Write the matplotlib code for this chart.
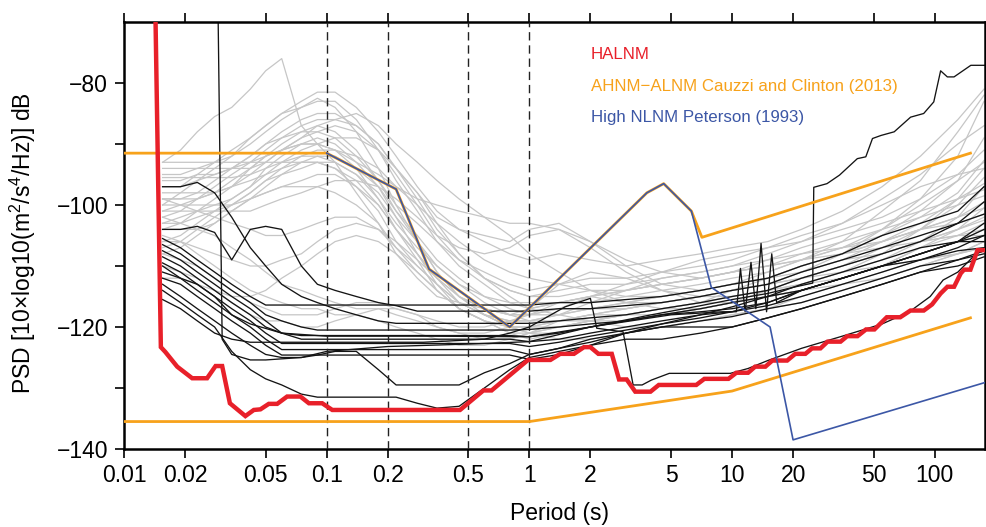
import matplotlib
matplotlib.use("Agg")
import matplotlib.pyplot as plt
from matplotlib.ticker import FixedLocator, NullLocator

plt.rcParams['font.family'] = ['Liberation Sans', 'DejaVu Sans']
plt.rcParams['mathtext.fontset'] = 'custom'
plt.rcParams['mathtext.rm'] = 'Liberation Sans'
plt.rcParams['mathtext.it'] = 'Liberation Sans:italic'

# period bins (s) shared by the station PSD curves
periods = [0.0155, 0.019, 0.023, 0.028, 0.034, 0.042, 0.05, 0.06, 0.075, 0.09,
           0.11, 0.14, 0.18, 0.22, 0.28, 0.35, 0.45, 0.6, 0.8, 1.0,
           1.4, 2, 3, 4.5, 7, 10, 15, 22, 35, 55,
           85, 130, 175]

# grey station curves (dB)
grey_01 = [-93, -91, -88, -85.5, -84, -81, -78, -76, -87, -90, -93, -98, -103, -108, -112, -115, -116, -117, -118, -117, -116, -116, -115, -114, -113, -112, -111, -109, -107, -104, -100, -96, -93]
grey_02 = [-100, -98, -96, -94, -92, -89, -87, -85, -83, -81.5, -81.5, -84, -88, -92, -97, -101, -104, -106, -108, -109, -108, -109, -110, -109, -108, -107, -106, -104, -101, -97, -92, -86, -81]
grey_03 = [-97, -97, -95, -93, -91, -89, -87, -85, -84, -83, -83, -86, -91, -96, -101, -106, -110, -113, -116, -117, -116, -115, -116, -115, -114, -113, -111, -109, -106, -101, -96, -88, -82]
grey_04 = [-95, -95, -94, -93, -92, -90, -88, -86, -84, -82.5, -84, -88, -94, -100, -106, -111, -115, -118, -120, -120, -119, -119, -118, -117, -116, -114, -113, -111, -108, -104, -99, -92, -83]
grey_05 = [-102, -101, -99, -97, -95, -93, -91, -89, -87, -86, -86, -87, -90, -94, -99, -104, -108, -112, -114, -115, -114, -113, -113, -112, -111, -110, -108, -106, -103, -99, -95, -90, -87]
grey_06 = [-104, -103, -101, -99, -97, -94, -92, -90, -88, -87, -88, -91, -96, -101, -106, -110, -113, -116, -118, -119, -119, -118, -118, -117, -116, -115, -114, -112, -110, -107, -104, -100, -95.5]
grey_07 = [-99, -99, -98, -96, -94, -92, -90, -89, -88, -88, -89, -92, -96, -100, -103, -106, -109, -111, -113, -114, -113, -112, -112, -111, -110, -109, -107, -105, -103, -100, -97, -95, -94]
grey_08 = [-106, -105, -103, -101, -99, -97, -94, -92, -90, -89, -90, -93, -97, -102, -108, -113, -117, -119, -121, -121, -120, -119, -118, -117, -117, -116, -115, -113, -111, -109, -106, -102, -97]
grey_09 = [-101, -100, -99, -98, -96, -94, -92, -91, -90, -90, -91, -93, -95, -97, -99, -100, -101, -102, -103, -103, -104, -106, -109, -111, -112, -111, -110, -108, -106, -104, -102, -100, -98.5]
grey_10 = [-108, -107, -105, -103, -101, -99, -97, -95, -93, -92, -92, -94, -97, -101, -105, -109, -112, -115, -117, -118, -118, -117, -117, -116, -115, -114, -113, -111, -109, -106, -104, -102, -100.5]
grey_11 = [-96, -96, -95, -95, -94, -93, -92, -91, -90, -90, -91, -94, -99, -104, -109, -114, -117, -119, -120, -120, -119, -118, -117, -116, -115, -114, -112, -110, -108, -106, -104, -103, -101.5]
grey_12 = [-103, -103, -102, -101, -100, -98, -96, -95, -94, -93, -93, -95, -98, -102, -106, -111, -115, -118, -120, -121, -121, -120, -119, -118, -117, -116, -115, -114, -112, -110, -107, -105, -103]
grey_13 = [-93, -93, -93, -93, -93, -93, -93, -93, -93, -93, -94, -96, -100, -104, -108, -112, -116, -118, -119, -119, -118, -117, -116, -115, -114, -113, -112, -111, -109, -108, -106, -105, -104]
grey_14 = [-95.5, -95.5, -95.5, -95.5, -95.5, -95, -94, -93, -92, -92, -93, -95, -99, -103, -107, -110, -113, -115, -116, -116, -116, -115, -114, -113, -112, -111, -110, -109, -108, -107, -106, -105, -105]
grey_15 = [-98, -98, -98, -98, -97, -96, -95, -94, -93, -93, -94, -97, -101, -106, -110, -113, -116, -118, -120, -121, -122, -122, -121, -120, -119, -118, -117, -115, -113, -111, -109, -108, -107]
grey_16 = [-100, -100, -100, -100, -100, -99, -98, -97, -96, -95, -95, -97, -100, -104, -108, -112, -115, -117, -118, -118, -117, -117, -116, -116, -115, -114, -113, -112, -110, -108, -106, -104, -102.5]
grey_17 = [-104, -104, -104, -103, -101, -99, -98, -97, -97, -97, -98, -100, -103, -107, -111, -114, -117, -119, -121, -122, -121, -120, -119, -118, -117, -116, -114, -112, -110, -108, -106, -104, -102]
grey_18 = [-99, -100, -101, -102, -103, -104, -105, -105, -104, -103, -102, -102, -104, -107, -110, -113, -116, -118, -119, -119, -118, -116, -114, -112, -111, -110, -109, -108, -107, -106, -104, -102, -99.5]
grey_19 = [-106, -106, -107, -108, -109, -110, -110, -109, -108, -106, -104, -103, -104, -106, -109, -112, -115, -117, -118, -118, -117, -115, -113, -111, -109, -108, -107, -106, -104, -102, -99, -95, -91]
grey_20 = [-108, -109, -110, -112, -114, -116, -117, -118, -118, -118, -117, -116, -116, -117, -118, -119, -120, -120, -119, -118, -116, -115, -114, -113, -112, -111, -110, -109, -107, -105, -102, -98, -92.7]
grey_21 = [-110, -111, -112, -114, -116, -118, -119, -119, -120, -120, -119, -118, -117, -117, -118, -120, -121, -121, -120, -117, -113, -111, -112, -114, -115, -115, -114, -113, -112, -110, -108, -106, -105]
grey_22 = [-102, -103, -104, -105, -107, -109, -111, -113, -114, -115, -116, -117, -117, -118, -119, -120, -121, -122, -122, -121, -119, -118, -117, -116, -115, -114, -113, -112, -111, -110, -109, -108, -107]
grey_23 = [-105, -106, -108, -110, -112, -114, -115, -116, -117, -117, -118, -118, -119, -120, -121, -122, -123, -123, -122, -121, -120, -119, -119, -118, -117, -116, -115, -114, -113, -112, -110, -108, -106]
grey_24 = [-97, -97, -96, -95, -94, -92, -90, -88, -86, -85, -85, -87, -90, -94, -98, -102, -104, -105, -106, -104, -103, -106, -110, -113, -114, -113, -112, -110, -108, -105, -101, -96, -89]
grey_25 = [-107, -106, -104, -102, -100, -98, -96, -94, -92, -91, -91, -92, -94, -97, -100, -103, -106, -109, -111, -112, -113, -114, -115, -115, -114, -113, -112, -110, -108, -106, -103, -99, -96.5]
grey_26 = [-94, -94, -94, -94, -94, -94, -93, -91, -89, -88, -87, -88, -91, -95, -100, -105, -109, -112, -114, -115, -115, -114, -114, -113, -112, -111, -109, -107, -105, -103, -101, -99, -97.5]
grey_27 = [-101, -101, -101, -101, -101, -101, -100, -99, -98, -97, -96, -96, -97, -99, -102, -105, -107, -108, -107, -105, -104, -107, -111, -114, -116, -116, -115, -114, -112, -110, -107, -104, -100.5]
grey_28 = [-103, -102, -101, -100, -99, -97, -95, -93, -91, -90, -89, -89, -91, -94, -98, -103, -108, -112, -115, -117, -118, -119, -120, -120, -119, -118, -117, -116, -114, -112, -110, -108, -106]
grey_29 = [-112, -112, -113, -114, -115, -115, -114, -112, -110, -108, -106, -105, -106, -108, -111, -114, -117, -119, -120, -120, -120, -119, -118, -118, -117, -116, -115, -114, -112, -110, -108, -106, -104]
grey_30 = [-99, -99, -99, -98, -97, -95, -93, -91, -89, -87, -86, -85, -87, -90, -93, -96, -99, -102, -105, -108, -111, -114, -116, -117, -116, -115, -114, -113, -111, -108, -104, -99, -94]

grey_curves = [grey_01, grey_02, grey_03, grey_04, grey_05, grey_06, grey_07, grey_08, grey_09, grey_10,
               grey_11, grey_12, grey_13, grey_14, grey_15, grey_16, grey_17, grey_18, grey_19, grey_20,
               grey_21, grey_22, grey_23, grey_24, grey_25, grey_26, grey_27, grey_28, grey_29, grey_30]

# black station curves (dB)
black_01 = [-97, -97, -96.3, -98, -102, -107, -110, -113, -115, -116, -117, -118, -119, -119.4, -119.4, -119.4, -119.4, -119.4, -119.4, -119.4, -119, -118.5, -118, -117, -116, -115, -114, -112, -110, -108, -106, -103, -99.5]
black_02 = [-104, -104, -103.5, -104.5, -109, -104, -103.5, -104, -110, -113, -114, -115, -116, -116.5, -117.4, -117.4, -117.4, -117.4, -117.4, -117.4, -117, -117, -116.5, -116, -115, -114, -113, -111, -109, -107, -105, -103, -101.5]
black_03 = [-105.5, -107, -109, -111, -113, -115, -116.4, -116.4, -116.4, -116.4, -116.4, -116.4, -116.4, -116.4, -116.4, -116.4, -116.4, -116.4, -116.4, -116.4, -116, -116, -115.5, -115, -114, -113, -112, -110, -108, -105, -103, -101, -97]
black_04 = [-106.5, -108, -110, -112, -114, -116, -118, -119, -120, -120.5, -120.5, -120.5, -120.5, -120.5, -120.5, -120.5, -120.5, -120.5, -120.5, -120.4, -120, -119.5, -119, -118, -117, -116, -115, -114, -112, -110, -108, -106, -104]
black_05 = [-107.5, -109, -111, -113, -115, -117, -119, -121, -121.4, -121.4, -121.4, -121.4, -121.4, -121.4, -121.4, -121.4, -121.4, -121.4, -121.4, -121.6, -121, -120, -119, -118, -117.5, -117, -116, -114, -112, -110, -109, -107, -105]
black_06 = [-108.5, -110, -112, -114, -116, -118, -120, -121, -122, -122, -122, -122, -122, -122, -122, -122, -122, -122, -122, -122.4, -122, -121, -120, -119, -118, -116.7, -115, -113, -111, -109, -107, -106, -106]
black_07 = [-109.5, -111, -113, -115, -117, -119, -121, -122.7, -122.7, -122.7, -122.7, -122.7, -122.7, -122.7, -122.7, -122.7, -122.7, -122.7, -122.7, -123.2, -122.5, -121.5, -120.5, -119.5, -118.5, -117.5, -116.5, -115, -113, -111, -109, -107.5, -107]
black_08 = [-111, -112, -113, -115, -118, -120, -122, -123.7, -123.7, -123.7, -123.7, -123.7, -123.7, -123.7, -123.7, -123.7, -123.7, -123.7, -123.7, -124.5, -123.5, -122, -121, -120, -119, -118.3, -117, -116, -114, -112, -110, -109, -108]
black_09 = [-112, -113, -115, -117, -119, -121, -123, -124.6, -124.6, -124.6, -124.6, -124.6, -124.6, -124.6, -124.6, -124.6, -124.6, -124.6, -124.6, -125.3, -124.5, -123, -121, -120, -120, -120, -118.5, -117, -115, -113, -111, -110, -108.5]
black_10 = [-113, -115, -117, -119, -121, -123, -124.5, -125, -125, -124.6, -124, -124, -127, -129.5, -129.5, -129.5, -129.5, -127.5, -126, -124.5, -123.5, -122.5, -121, -119.5, -118, -117.5, -116, -114, -112, -110, -108, -106, -105]
black_11 = [-114, -116, -118, -120, -124, -127, -128.5, -129.5, -131, -131.5, -131.5, -131.5, -131.5, -131.5, -132.5, -133.3, -133, -130, -127, -125, -124, -123, -122, -122, -121, -120, -118.5, -117, -115, -113, -111, -109, -107.5]

black_curves = [black_01, black_02, black_03, black_04, black_05, black_06,
                black_07, black_08, black_09, black_10, black_11]

# black curves with their own period bins
tall_periods = [0.0155, 0.0284, 0.0305, 0.034, 0.042, 0.05, 0.075, 0.1, 0.2, 0.5, 1.0, 2.0, 5.0, 9.0,
                10.5, 11.0, 11.6, 12.4, 13.1, 13.9, 14.8, 15.7, 16.6, 22, 35, 55, 85, 130, 175]
tall_psd = [-40, -40, -122, -124.5, -125.4, -125.4, -125, -124, -123.2, -122.8, -122.4, -120, -118, -117.5,
            -117.5, -110.4, -117.5, -109.4, -117, -106.3, -117.5, -108, -116, -114, -112, -110, -108, -106, -103]

drop_periods = [0.0155, 0.019, 0.023, 0.028, 0.034, 0.042, 0.06, 0.1, 0.3, 0.6, 0.8, 1.0, 1.5, 2.0, 2.15, 2.9,
                3.25, 3.6, 4.0, 4.9, 9.8, 12, 15, 22, 35, 55, 75, 95, 110, 130, 160, 175]
drop_psd = [-115.5, -117, -119, -121, -122, -122.5, -122.5, -122.5, -122.5, -122, -121, -120, -116.7, -115.3, -120.2, -120.8,
            -129.5, -129.5, -128.7, -127.6, -127.6, -126.8, -125.5, -123.5, -121.5, -119.5, -117.5, -115, -112.3, -111, -108, -107.5]

jump_periods = [0.0155, 0.019, 0.023, 0.028, 0.034, 0.042, 0.06, 0.1, 0.3, 1.0, 2.0, 4.0, 7, 10, 15, 20, 25.0,
                25.3, 29.4, 33.9, 41.5, 45.7, 49.3, 54.3, 63.1, 76.0, 88.2, 98.9, 106.9, 115.4, 124.5, 150.7, 177]
jump_psd = [-110, -112, -114, -116, -118, -119.5, -121, -121.5, -121.5, -121.6, -120, -118, -116.5, -115.5, -114.5, -113.5, -112.8,
            -97.1, -96.5, -95.1, -92.4, -92.1, -89.1, -88.6, -88.0, -85.6, -85.0, -83.1, -78.0, -79.0, -79.0, -77.1, -77.1]

# HALNM
halnm_periods = [0.01428, 0.0152, 0.016, 0.0183, 0.0217, 0.0257, 0.0283, 0.0305, 0.0333, 0.0397, 0.0437, 0.0471,
                 0.0518, 0.057, 0.0638, 0.0742, 0.0817, 0.095, 0.1066, 0.455, 0.593, 0.651, 0.985, 1.27, 1.42, 1.66,
                 1.86, 2.0, 2.19, 2.55, 2.77, 3.02, 3.33, 3.96, 4.35, 6.66, 7.3, 9.6, 10.5, 12.0, 13.0, 14.6, 15.8,
                 18.7, 20.5, 23.0, 24.8, 27.3, 29.6, 34.3, 37.0, 41.6, 45.8, 50.4, 58.0, 67.6, 75.9, 88.3, 97.0,
                 106.9, 115.5, 124.6, 134.4, 139.5, 150, 162.6, 178]
halnm_psd = [-68, -123.3, -124.1, -126.5, -128.4, -128.4, -126.4, -126.4, -132.5, -134.6, -133.6, -133.5,
             -132.6, -132.6, -131.4, -131.4, -132.5, -132.5, -133.6, -133.6, -130.4, -130.4, -125.4, -125.4, -124.4, -124.4,
             -123.3, -123.3, -124.4, -124.4, -128.6, -128.6, -130.6, -130.6, -129.5, -129.5, -128.5, -128.5, -127.5, -127.5, -126.5, -126.5, -125.5,
             -125.5, -124.4, -124.4, -123.5, -123.5, -122.4, -122.4, -121.5, -121.5, -120.4, -120.4, -118.4, -118.4, -117.3, -117.3, -116.3,
             -114.5, -113.4, -113.4, -111.2, -110.6, -110.6, -107.4, -107.4]

# AHNM / ALNM (Cauzzi and Clinton 2013) and Peterson NHNM
ahnm_periods = [0.01, 0.1, 0.22, 0.32, 0.8, 3.8, 4.6, 6.3, 7.1, 150]
ahnm_psd = [-91.5, -91.5, -97.4, -110.5, -120.0, -98.0, -96.5, -101.0, -105.3, -91.5]
alnm_periods = [0.01, 1, 10, 150]
alnm_psd = [-135.5, -135.5, -130.5, -118.5]
nhnm_periods = [0.1, 0.22, 0.32, 0.8, 3.8, 4.6, 6.3, 7.9, 15.4, 20, 177]
nhnm_psd = [-91.5, -97.4, -110.5, -120.0, -98.0, -96.5, -101.0, -113.5, -120.0, -138.5, -129.1]

dashed_periods = [0.1, 0.2, 0.5, 1]
xticks = [0.01, 0.02, 0.05, 0.1, 0.2, 0.5, 1, 2, 5, 10, 20, 50, 100]
xtick_labels = ['0.01', '0.02', '0.05', '0.1', '0.2', '0.5', '1', '2', '5', '10', '20', '50', '100']

RED = '#e8202a'
ORANGE = '#f7a21b'
BLUE = '#3c57a6'

fig = plt.figure(figsize=(9.86, 5.27), dpi=100)
ax = fig.add_axes([124 / 986, 1 - 449 / 527, 861 / 986, 427 / 527])

for c in grey_curves:
    ax.plot(periods, c, color='#c6c6c6', lw=0.9, zorder=1)
for c in black_curves:
    ax.plot(periods, c, color='#141414', lw=0.95, zorder=2)
ax.plot(tall_periods, tall_psd, color='#141414', lw=0.95, zorder=2)
ax.plot(drop_periods, drop_psd, color='#141414', lw=0.95, zorder=2)
ax.plot(jump_periods, jump_psd, color='#141414', lw=0.95, zorder=2)

for p in dashed_periods:
    ax.axvline(p, color='#222222', lw=1.0, ls=(0, (6, 3.5)), zorder=3)

ax.plot(ahnm_periods, ahnm_psd, color=ORANGE, lw=2.0, zorder=4)
ax.plot(alnm_periods, alnm_psd, color=ORANGE, lw=2.0, zorder=4)
ax.plot(halnm_periods, halnm_psd, color=RED, lw=3.2, zorder=5, solid_joinstyle='miter')
ax.plot(nhnm_periods, nhnm_psd, color=BLUE, lw=1.2, zorder=6)

ax.set_xscale('log')
ax.set_xlim(0.01, 177)
ax.set_ylim(-140, -70)
ax.xaxis.set_major_locator(FixedLocator(xticks))
ax.xaxis.set_minor_locator(NullLocator())
ax.set_xticklabels(xtick_labels)
ax.set_yticks([-140, -120, -100, -80])
ax.set_yticks([-130, -110, -90], minor=True)
ax.tick_params(axis='x', which='both', direction='out', top=True, bottom=True,
               length=6.5, width=1.2, labelsize=16.5, pad=4)
ax.tick_params(axis='y', which='both', direction='out', left=True, right=False,
               length=6.5, width=1.2, labelsize=16.5, pad=5)
for s in ax.spines.values():
    s.set_linewidth(1.8)

fig.text(23 / 986, 1 - 243.5 / 527, r'PSD [10$\times$log10(m$^2$/s$^4$/Hz)] dB',
         rotation=90, ha='center', va='center', fontsize=16.5)
fig.text(560 / 986, 1 - 520 / 527, 'Period (s)', ha='center', va='baseline', fontsize=16.5)

fig.text(591 / 986, 1 - 59.3 / 527, 'HALNM', color=RED, fontsize=12.2, va='baseline')
fig.text(591 / 986, 1 - 90.7 / 527, 'AHNM\u2212ALNM Cauzzi and Clinton (2013)', color=ORANGE,
         fontsize=12.2, va='baseline')
fig.text(591 / 986, 1 - 121.7 / 527, 'High NLNM Peterson (1993)', color=BLUE, fontsize=12.2, va='baseline')

fig.savefig('out.png', dpi=100)
